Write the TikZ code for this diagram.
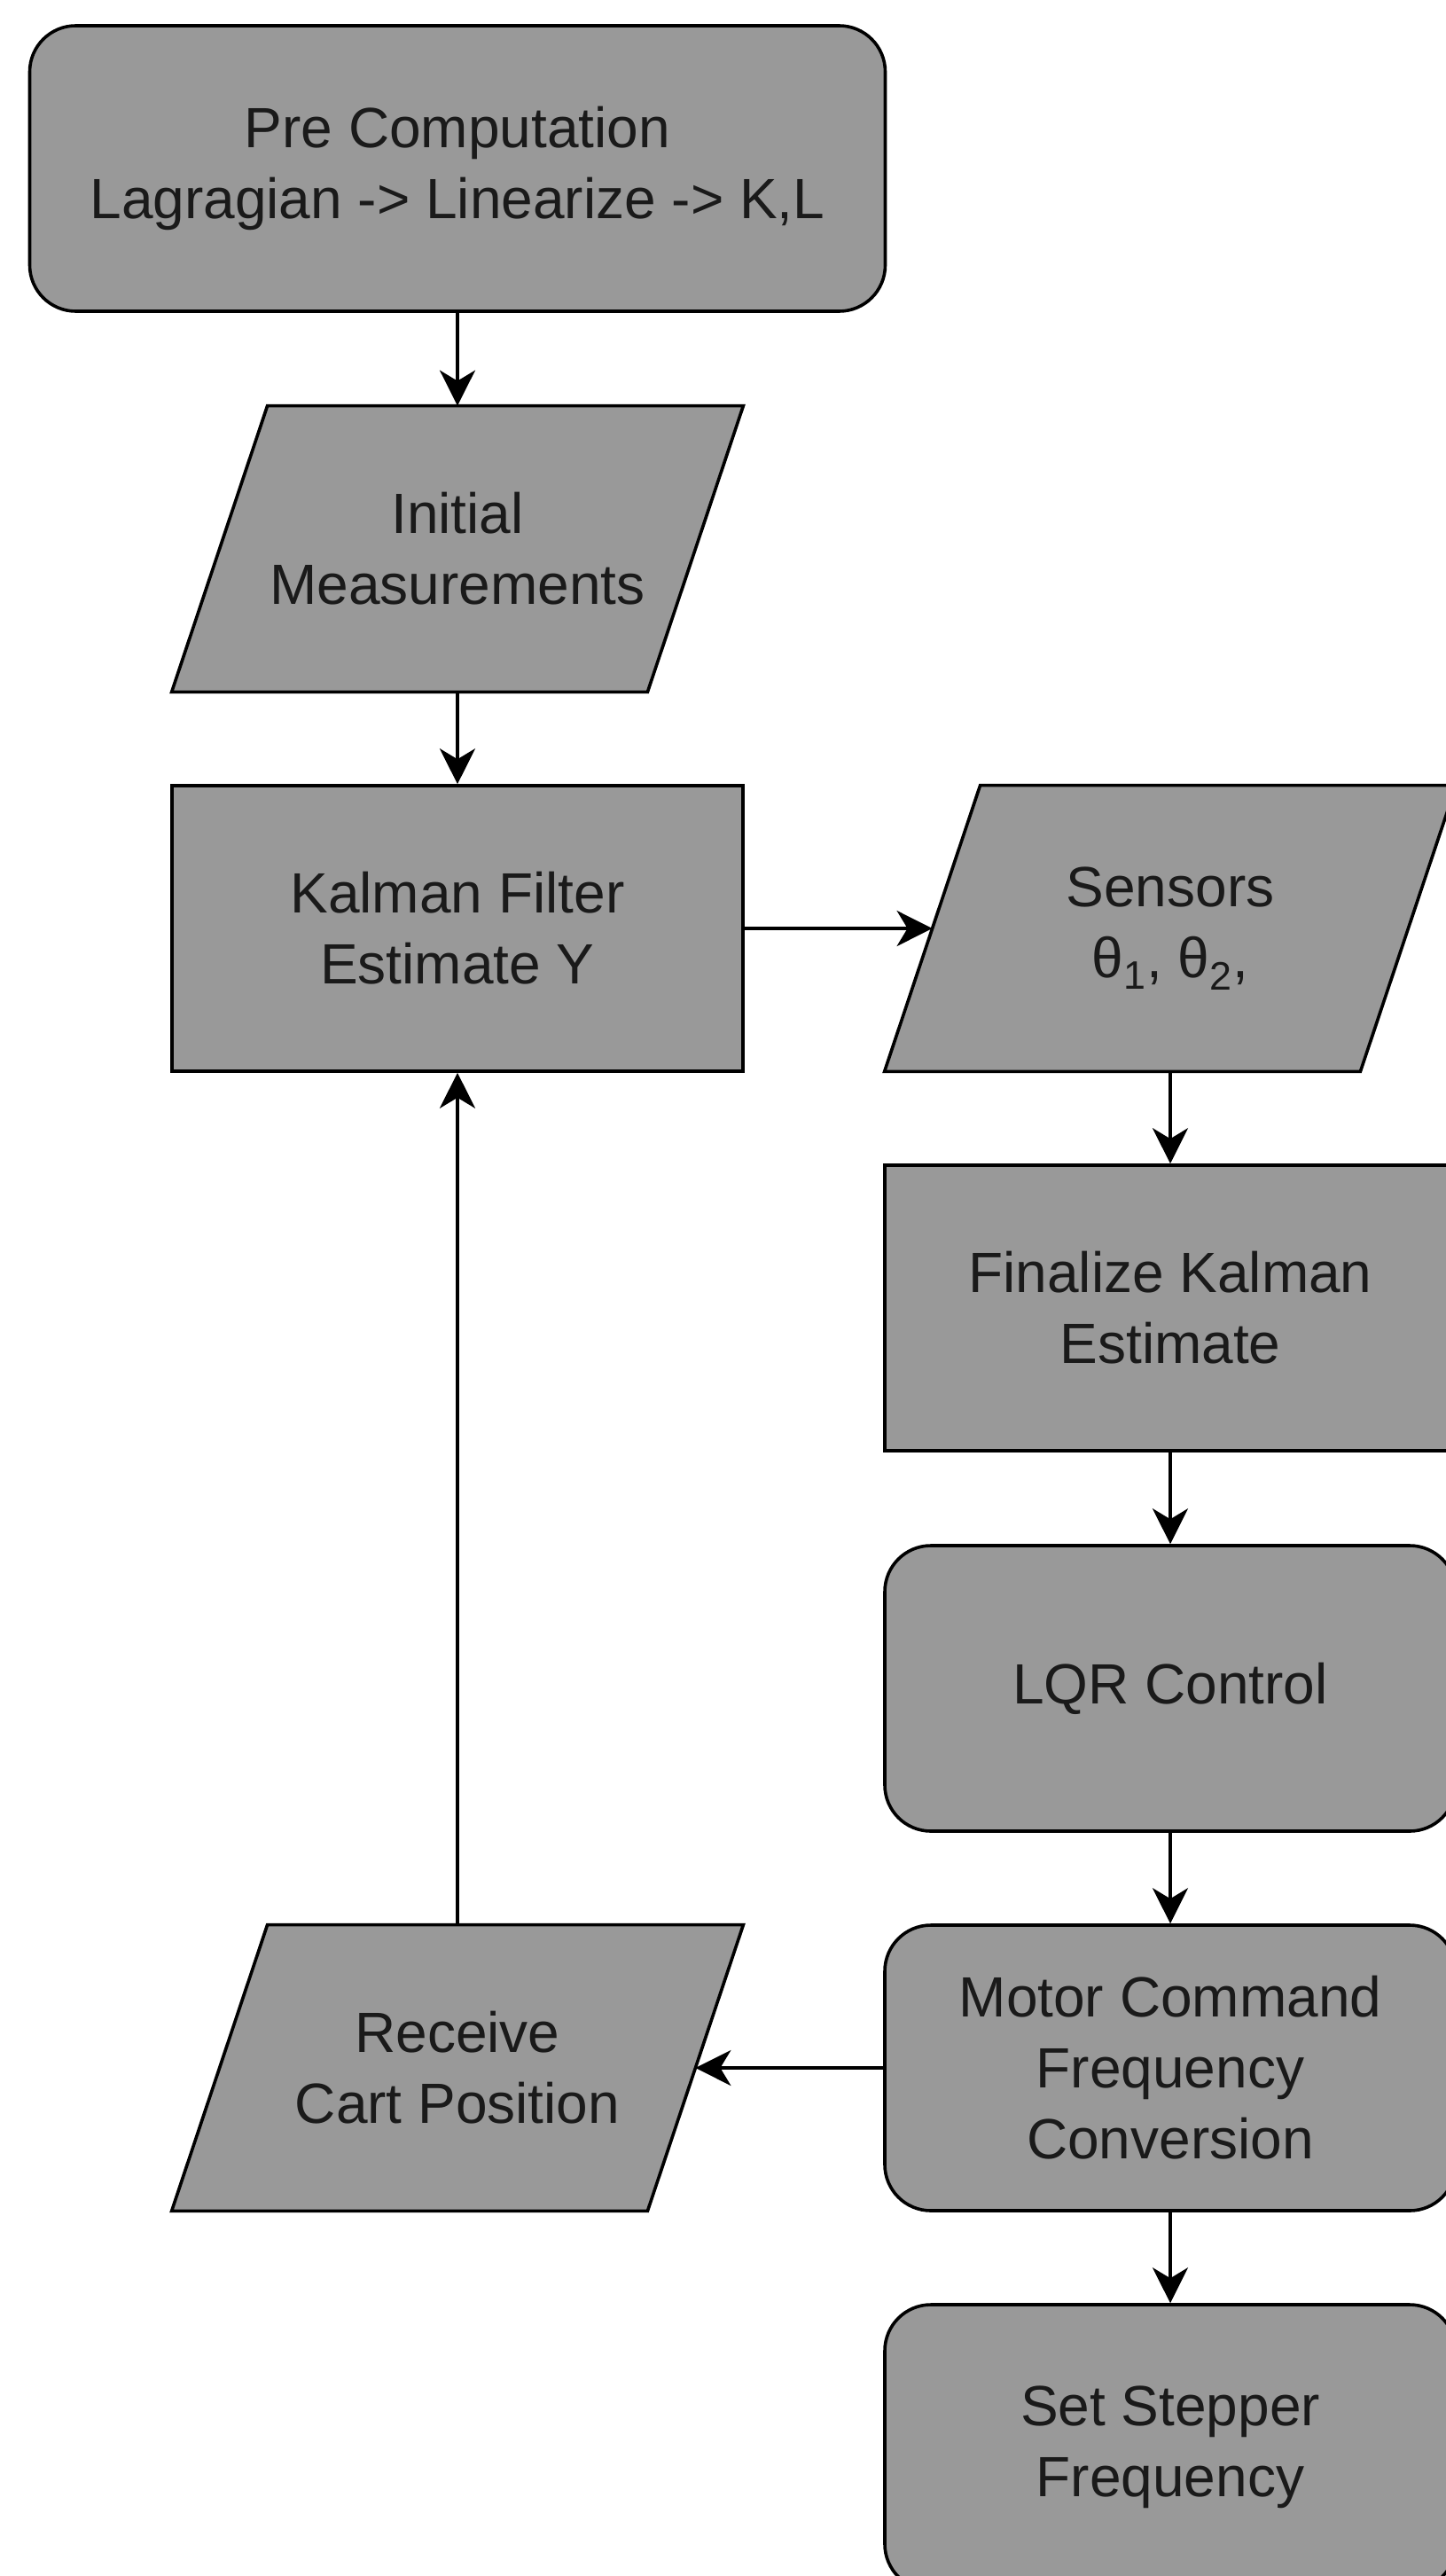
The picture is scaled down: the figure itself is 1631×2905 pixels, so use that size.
\documentclass[tikz,border=0pt]{standalone}
\usepackage{fontspec}
\setmainfont{Liberation Sans}
\usetikzlibrary{arrows.meta,backgrounds}
\definecolor{boxfill}{HTML}{999999}
\definecolor{txt}{HTML}{1A1A1A}
\tikzset{
  base/.style={font=\fontsize{32}{40}\selectfont, text=txt, align=center, inner sep=0pt, minimum height=161pt},
  outline/.style={draw=black, line width=1.8pt, fill=boxfill},
  startbox/.style={base, outline, rounded corners=26pt, minimum width=482.5pt},
  procbox/.style={base, outline, minimum width=322pt},
  roundbox/.style={base, outline, rounded corners=26pt, minimum width=322pt},
  iobox/.style={base, minimum width=268pt},
  parashape/.style={outline, line join=miter},
  conn/.style={draw=black, line width=1.8pt, -{Stealth[length=20pt, width=20pt, inset=6pt]}}
}
\newcommand\paraback[1]{%
  \begin{scope}[on background layer]
    \path[parashape] ([xshift=-27pt]#1.south west) -- ([xshift=-27pt]#1.south east)
      -- ([xshift=27pt]#1.north east) -- ([xshift=27pt]#1.north west) -- cycle;
  \end{scope}}
\begin{document}
\begin{tikzpicture}[x=0.5pt, y=-0.5pt]
  \useasboundingbox (0,0) rectangle (1631,2905);

  \node[startbox] (pre) at (516,190) {Pre Computation\\Lagragian -> Linearize -> K,L};
  \node[iobox] (init) at (516,619) {Initial\\Measurements};
  \paraback{init}
  \node[procbox] (kal) at (516,1047) {Kalman Filter\\Estimate Y};
  \node[iobox] (sens) at (1320,1047) {Sensors\\θ\textsubscript{1}, θ\textsubscript{2},};
  \paraback{sens}
  \node[procbox] (fin) at (1320,1475) {Finalize Kalman\\Estimate};
  \node[roundbox] (lqr) at (1320,1904) {LQR Control};
  \node[roundbox] (mot) at (1320,2332) {Motor Command\\Frequency\\Conversion};
  \node[roundbox] (set) at (1320,2760) {Set Stepper\\Frequency};
  \node[iobox] (recv) at (516,2332) {Receive\\Cart Position};
  \paraback{recv}

  \draw[conn] (pre.south) -- (init.north);
  \draw[conn] (init.south) -- (kal.north);
  \draw[conn] (kal.east) -- (sens.west);
  \draw[conn] (sens.south) -- (fin.north);
  \draw[conn] (fin.south) -- (lqr.north);
  \draw[conn] (lqr.south) -- (mot.north);
  \draw[conn] (mot.south) -- (set.north);
  \draw[conn] (mot.west) -- (recv.east);
  \draw[conn] (recv.north) -- (kal.south);
\end{tikzpicture}
\end{document}
